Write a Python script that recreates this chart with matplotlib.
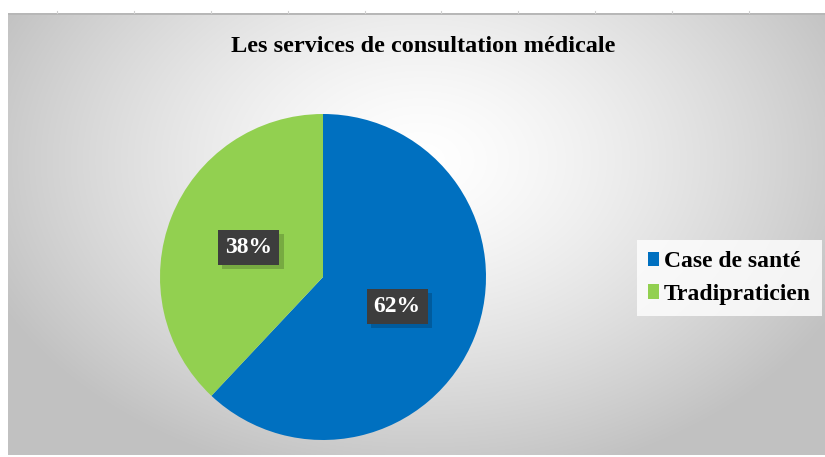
import numpy as np
import matplotlib
matplotlib.use("Agg")
import matplotlib.pyplot as plt
import matplotlib.patheffects as pe

title = "Les services de consultation médicale"
categories = ["Case de santé", "Tradipraticien"]
values = [62, 38]
colors = ["#0070C0", "#92D050"]

W, H = 825, 457
fig = plt.figure(figsize=(W / 100, H / 100), dpi=100)

# background
bg = fig.add_axes([0, 0, 1, 1])
yy, xx = np.mgrid[0:H, 0:W]
cx, cy = 420, 160
d = np.sqrt(((xx - cx) / 470.0) ** 2 + ((yy - cy) / 330.0) ** 2)
v = 255 - 62 * np.clip(d, 0, 1) ** 1.4
img = np.stack([v, v, v], axis=-1) / 255.0
img[:14, :, :] = 1.0
img[13:15, 8:, :] = 0.72
img[:, :8, :] = 1.0
img[455:, :, :] = 1.0
bg.imshow(img, extent=[0, W, H, 0], aspect="auto", interpolation="bilinear")
for gx in [57, 134, 211, 288, 365, 441, 518, 595, 672, 749]:
    bg.plot([gx, gx], [11, 13], color="#d0d0d0", lw=0.8)
bg.set_xlim(0, W)
bg.set_ylim(H, 0)
bg.axis("off")

# pie
pcx, pcy, r = 323, 277, 163
ax = fig.add_axes([(pcx - r) / W, (H - pcy - r) / H, 2 * r / W, 2 * r / H])
wedges, _, autotexts = ax.pie(
    values, colors=colors, startangle=90, counterclock=False,
    autopct="%d%%", pctdistance=0.49, radius=1,
    wedgeprops=dict(linewidth=0),
    textprops=dict(color="white", fontsize=17, fontweight="bold",
                   family="Liberation Serif"),
)
ax.set_xlim(-1, 1)
ax.set_ylim(-1, 1)
ax.set_aspect("equal")
ax.axis("off")

for t in autotexts:
    t.set_bbox(dict(boxstyle="square,pad=0.3", fc="#3d3d3d", ec="none"))
    t.set_zorder(5)
    t.get_bbox_patch().set_path_effects([
        pe.SimplePatchShadow(offset=(3, -3), shadow_rgbFace="black", alpha=0.18),
        pe.Normal(),
    ])

# title
fig.text(423 / W, 1 - 46 / H, title, ha="center", va="center",
         fontsize=17.5, fontweight="bold", family="Liberation Serif", color="black")

# legend
leg = fig.legend(wedges, categories, loc="center left",
                 bbox_to_anchor=(637 / W, 1 - 278 / H),
                 prop=dict(family="Liberation Serif", weight="bold", size=17),
                 frameon=True, fancybox=False, handlelength=0.5, handleheight=0.55,
                 handletextpad=0.2, labelspacing=0.5, borderpad=0.45,
                 borderaxespad=0)
leg.get_frame().set_facecolor((1, 1, 1, 0.45))
leg.get_frame().set_edgecolor("none")

fig.savefig("out.png", dpi=100)
